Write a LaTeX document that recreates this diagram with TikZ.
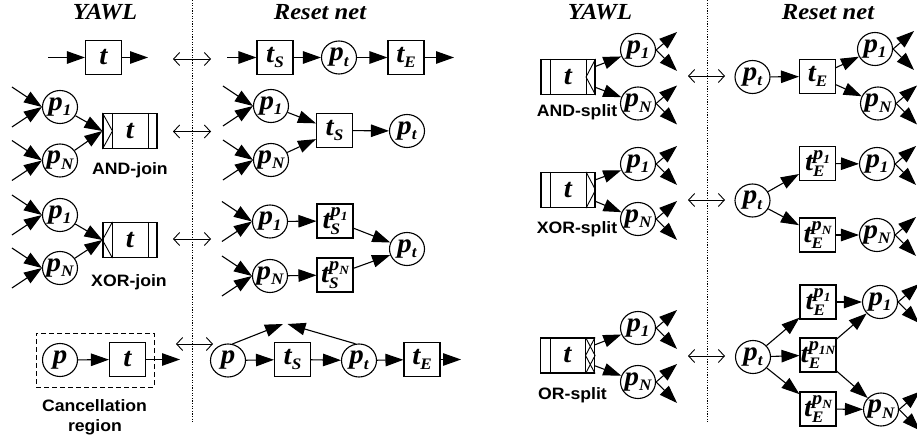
\documentclass[tikz,border=0pt]{standalone}
\usepackage{fontspec}
\usetikzlibrary{arrows.meta,shapes.geometric,calc}
\setmainfont{Liberation Serif}
\newfontfamily\serfam{Liberation Serif}[FakeStretch=1.07]
\newfontfamily\sanfam{Liberation Sans}[FakeStretch=1.07]
\newcommand{\lbf}{\serfam\bfseries\itshape\fontsize{27}{29}\selectfont}
\newcommand{\ttf}{\serfam\bfseries\itshape\fontsize{23}{25}\selectfont}
\newcommand{\snf}{\sanfam\bfseries\fontsize{16.5}{20}\selectfont}
\newcommand{\subf}{\fontsize{16}{16}\selectfont}
\newcommand{\supf}{\fontsize{19}{19}\selectfont}
\newcommand{\ssubf}{\fontsize{12.5}{12.5}\selectfont}
\newcommand{\Ls}[2]{#1\raisebox{-0.2em}{\subf #2}}
\newcommand{\Lp}[1]{p\raisebox{-0.2em}{\ssubf #1}}
\newcommand{\Lss}[3]{#1\rlap{\raisebox{-0.22em}{\subf #2}}\raisebox{0.42em}{\supf\Lp{#3}}}
\tikzset{
  pl/.style={draw, ellipse, minimum width=35pt, minimum height=33pt, inner sep=-2pt, line width=1.1pt, font=\lbf},
  tr/.style={draw, rectangle, minimum width=36pt, minimum height=34pt, inner sep=0pt, line width=1.1pt, font=\lbf},
  tk/.style={draw, rectangle, minimum width=54pt, minimum height=35pt, inner sep=0pt, line width=1.1pt, font=\lbf},
  arr/.style={-{Triangle[length=18pt,width=12.5pt]}, line width=1.1pt},
  dbl/.style={{Straight Barb[length=6pt,width=13pt]}-{Straight Barb[length=6pt,width=13pt]}, line width=0.9pt},
  divl/.style={line width=0.9pt, dash pattern=on 1.3pt off 1.3pt},
  ttl/.style={font=\ttf, inner sep=0pt, anchor=base},
  snl/.style={font=\snf, inner sep=0pt, anchor=base},
  deco/.style={line width=0.9pt},
}
% dividers of a YAWL task
\newcommand{\tdiv}[1]{%
  \draw[deco] ($(#1.north west)+(10,0)$) -- ($(#1.south west)+(10,0)$);
  \draw[deco] ($(#1.north east)+(-9.5,0)$) -- ($(#1.south east)+(-9.5,0)$);}
\newcommand{\andjoin}[1]{\draw[deco] (#1.north west) -- ($(#1.west)+(10,0)$) -- (#1.south west);}
\newcommand{\xorjoin}[1]{\draw[deco] ($(#1.north west)+(10,0)$) -- (#1.west) -- ($(#1.south west)+(10,0)$);}
\newcommand{\andsplit}[1]{\draw[deco] (#1.north east) -- ($(#1.east)+(-9.5,0)$) -- (#1.south east);}
\newcommand{\xorsplit}[1]{\draw[deco] ($(#1.north east)+(-9.5,0)$) -- (#1.east) -- ($(#1.south east)+(-9.5,0)$);}
% two incoming arcs of a place
\newcommand{\ins}[1]{%
  \coordinate (#1ia) at ($(#1.west)+(-30,-20)$);
  \coordinate (#1ib) at ($(#1.west)+(-30,20)$);
  \draw[arr] (#1ia) -- (#1.west); \draw[arr] (#1ib) -- (#1.west);}
% two outgoing arcs of a place
\newcommand{\outs}[1]{%
  \coordinate (#1oa) at ($(#1.east)+(21,-18)$);
  \coordinate (#1ob) at ($(#1.east)+(21,21)$);
  \draw[arr] (#1.east) -- (#1oa); \draw[arr] (#1.east) -- (#1ob);}
\begin{document}
\begin{tikzpicture}[x=1pt,y=-1pt]
\useasboundingbox (0,0) rectangle (917,443);
% titles
\node[ttl] (ty1) at (105,19.5) {YAWL};
\node[ttl] (tr1) at (320,19.5) {Reset net};
\node[ttl] (ty2) at (600,19.5) {YAWL};
\node[ttl] (tr2) at (828,19.5) {Reset net};
% dividers
\coordinate (v1a) at (192.5,0); \coordinate (v1b) at (192.5,423);
\coordinate (v2a) at (707,0); \coordinate (v2b) at (707,423);
\draw[divl] (v1a) -- (v1b);
\draw[divl] (v2a) -- (v2b);

% ---------- Row 1: task ----------
\node[tr] (a1t) at (103.5,57.5) {t};
\coordinate (a1i) at (48,57.5); \coordinate (a1o) at (148,57.5);
\draw[arr] (a1i) -- (a1t); \draw[arr] (a1t) -- (a1o);
\coordinate (e1a) at (173,59); \coordinate (e1b) at (211,59);
\draw[dbl] (e1a) -- (e1b);
\node[tr] (b1s) at (275,57.5) {\Ls{t}{S}};
\node[pl] (b1p) at (339,57.5) {\Ls{p}{t}};
\node[tr] (b1e) at (406,57.5) {\Ls{t}{E}};
\coordinate (b1i) at (227,57.5); \coordinate (b1o) at (454,57.5);
\draw[arr] (b1i) -- (b1s); \draw[arr] (b1s) -- (b1p);
\draw[arr] (b1p) -- (b1e); \draw[arr] (b1e) -- (b1o);

% ---------- Row 2: AND-join ----------
\node[pl] (a2p1) at (60,107) {\Ls{p}{1}};
\node[pl] (a2pN) at (60,160.5) {\Ls{p}{N}};
\ins{a2p1} \ins{a2pN}
\node[tk] (a2t) at (130,131) {t};
\tdiv{a2t} \andjoin{a2t}
\draw[arr] (a2p1) -- (a2t.west); \draw[arr] (a2pN) -- (a2t.west);
\node[snl] (a2l) at (130,175) {AND-join};
\coordinate (e2a) at (173,131.5); \coordinate (e2b) at (211,131.5);
\draw[dbl] (e2a) -- (e2b);
\node[pl] (b2p1) at (271,106) {\Ls{p}{1}};
\node[pl] (b2pN) at (271,160) {\Ls{p}{N}};
\ins{b2p1} \ins{b2pN}
\node[tr] (b2s) at (334.5,130.5) {\Ls{t}{S}};
\node[pl] (b2pt) at (407,131) {\Ls{p}{t}};
\draw[arr] (b2p1) -- (b2s); \draw[arr] (b2pN) -- (b2s); \draw[arr] (b2s) -- (b2pt);

% ---------- Row 3: XOR-join ----------
\node[pl] (a3p1) at (60,215) {\Ls{p}{1}};
\node[pl] (a3pN) at (60,268) {\Ls{p}{N}};
\ins{a3p1} \ins{a3pN}
\node[tk] (a3t) at (130,240) {t};
\tdiv{a3t} \xorjoin{a3t}
\draw[arr] (a3p1) -- (a3t.west); \draw[arr] (a3pN) -- (a3t.west);
\node[snl] (a3l) at (129,287) {XOR-join};
\coordinate (e3a) at (173,239); \coordinate (e3b) at (211,239);
\draw[dbl] (e3a) -- (e3b);
\node[pl] (b3p1) at (270,221.5) {\Ls{p}{1}};
\node[pl] (b3pN) at (270,276) {\Ls{p}{N}};
\ins{b3p1} \ins{b3pN}
\node[tr] (b3s1) at (335,221) {\Lss{t}{S}{1}};
\node[tr] (b3sN) at (335,275) {\Lss{t}{S}{N}};
\node[pl] (b3pt) at (407,249) {\Ls{p}{t}};
\draw[arr] (b3p1) -- (b3s1); \draw[arr] (b3pN) -- (b3sN);
\draw[arr] (b3s1) -- (b3pt); \draw[arr] (b3sN) -- (b3pt);

% ---------- Row 4: cancellation ----------
\node[draw, line width=1pt, dash pattern=on 5pt off 3pt, minimum width=118pt, minimum height=54pt, inner sep=0pt] (creg) at (95,360) {};
\node[pl] (a4p) at (60,360) {p};
\node[tr] (a4t) at (127.5,359.5) {t};
\coordinate (a4o) at (180,359.5);
\draw[arr] (a4p) -- (a4t); \draw[arr] (a4t) -- (a4o);
\node[snl] (a4l1) at (94.5,411.5) {Cancellation};
\node[snl] (a4l2) at (95,431) {region};
\coordinate (e4a) at (176,344); \coordinate (e4b) at (213,344);
\draw[dbl] (e4a) -- (e4b);
\node[pl] (b4p) at (228,360.5) {p};
\node[tr] (b4s) at (292.5,359.5) {\Ls{t}{S}};
\node[pl] (b4pt) at (359,360.5) {\Ls{p}{t}};
\node[tr] (b4e) at (422,359.5) {\Ls{t}{E}};
\coordinate (b4o) at (461,359.5);
\draw[arr] (b4p) -- (b4s); \draw[arr] (b4s) -- (b4pt);
\draw[arr] (b4pt) -- (b4e); \draw[arr] (b4e) -- (b4o);
\coordinate (rsA) at (283,324); \coordinate (rsB) at (287.5,324);
\draw[arr] (b4p.75) -- (rsA); \draw[arr] (b4pt.102) -- (rsB);

% ---------- Right: AND-split ----------
\node[tk] (c1t) at (568,77) {t};
\tdiv{c1t} \andsplit{c1t}
\node[snl] (c1l) at (577,117) {AND-split};
\node[pl] (c1p1) at (638,50) {\Ls{p}{1}};
\node[pl] (c1pN) at (638,103.5) {\Ls{p}{N}};
\draw[arr] (c1t) -- (c1p1); \draw[arr] (c1t) -- (c1pN);
\outs{c1p1} \outs{c1pN}
\coordinate (f1a) at (688,76); \coordinate (f1b) at (725,76);
\draw[dbl] (f1a) -- (f1b);
\node[pl] (d1pt) at (752.5,77) {\Ls{p}{t}};
\node[tr] (d1e) at (817.5,76.5) {\Ls{t}{E}};
\node[pl] (d1p1) at (875,49) {\Ls{p}{1}};
\node[pl] (d1pN) at (878,103.5) {\Ls{p}{N}};
\draw[arr] (d1pt) -- (d1e); \draw[arr] (d1e) -- (d1p1); \draw[arr] (d1e) -- (d1pN);
\outs{d1p1} \outs{d1pN}

% ---------- Right: XOR-split ----------
\node[tk] (c2t) at (568,190) {t};
\tdiv{c2t} \xorsplit{c2t}
\node[snl] (c2l) at (577,234) {XOR-split};
\node[pl] (c2p1) at (638,164) {\Ls{p}{1}};
\node[pl] (c2pN) at (638,219) {\Ls{p}{N}};
\draw[arr] (c2t) -- (c2p1); \draw[arr] (c2t) -- (c2pN);
\outs{c2p1} \outs{c2pN}
\coordinate (f2a) at (688,200); \coordinate (f2b) at (725,200);
\draw[dbl] (f2a) -- (f2b);
\node[pl] (d2pt) at (752.5,200.5) {\Ls{p}{t}};
\node[tr] (d2e1) at (817.5,163.5) {\Lss{t}{E}{1}};
\node[tr] (d2eN) at (817.5,235) {\Lss{t}{E}{N}};
\node[pl] (d2p1) at (877,164) {\Ls{p}{1}};
\node[pl] (d2pN) at (877,235) {\Ls{p}{N}};
\draw[arr] (d2pt) -- (d2e1); \draw[arr] (d2pt) -- (d2eN);
\draw[arr] (d2e1) -- (d2p1); \draw[arr] (d2eN) -- (d2pN);
\outs{d2p1} \outs{d2pN}

% ---------- Right: OR-split ----------
\node[tk] (c3t) at (567.5,355.5) {t};
\tdiv{c3t} \andsplit{c3t} \xorsplit{c3t}
\node[snl] (c3l) at (572.5,399) {OR-split};
\node[pl] (c3p1) at (638,328) {\Ls{p}{1}};
\node[pl] (c3pN) at (638,382) {\Ls{p}{N}};
\draw[arr] (c3t) -- (c3p1); \draw[arr] (c3t) -- (c3pN);
\outs{c3p1} \outs{c3pN}
\coordinate (f3a) at (688,356); \coordinate (f3b) at (725,356);
\draw[dbl] (f3a) -- (f3b);
\node[pl] (d3pt) at (753,357) {\Ls{p}{t}};
\node[tr] (d3e1) at (818,302) {\Lss{t}{E}{1}};
\node[tr] (d3e2) at (818,355) {\Lss{t}{E}{1N}};
\node[tr] (d3eN) at (818,409) {\Lss{t}{E}{N}};
\node[pl] (d3p1) at (880,302) {\Ls{p}{1}};
\node[pl] (d3pN) at (881,409.5) {\Ls{p}{N}};
\draw[arr] (d3pt) -- (d3e1); \draw[arr] (d3pt) -- (d3e2); \draw[arr] (d3pt) -- (d3eN);
\draw[arr] (d3e1) -- (d3p1); \draw[arr] (d3e2) -- (d3p1);
\draw[arr] (d3e2) -- (d3pN); \draw[arr] (d3eN) -- (d3pN);
\outs{d3p1} \outs{d3pN}
\end{tikzpicture}
\end{document}
